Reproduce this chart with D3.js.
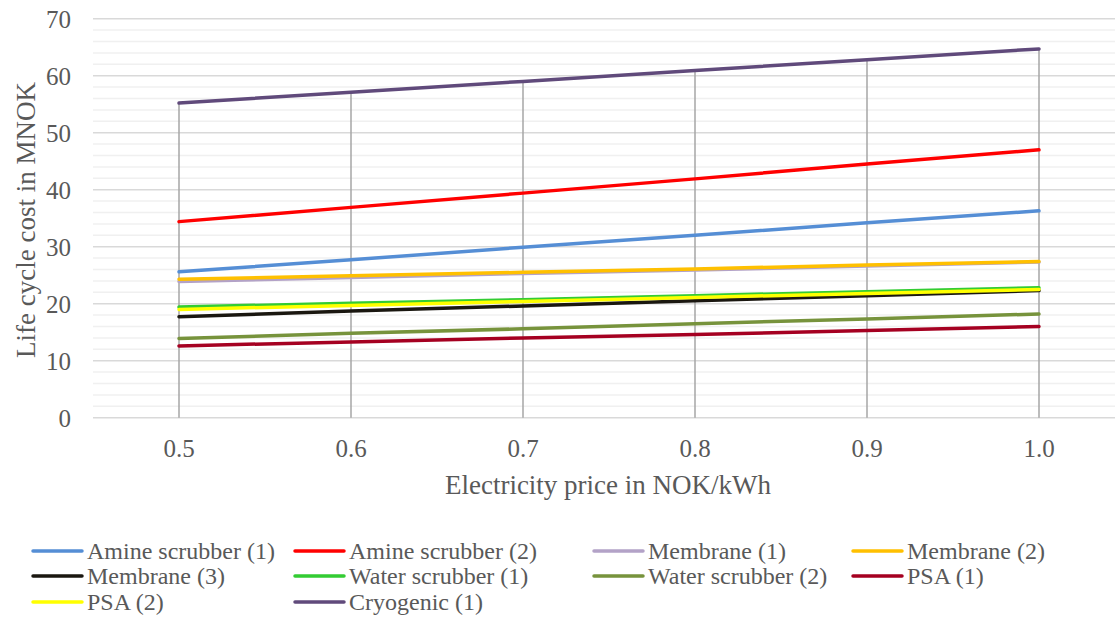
<!DOCTYPE html>
<html>
<head>
<meta charset="utf-8">
<script src="https://cdn.jsdelivr.net/npm/d3@7"></script>
<style>
  html, body { margin: 0; padding: 0; background: #fff; }
  svg { display: block; font-family: "Liberation Serif", "DejaVu Serif", serif; }
</style>
</head>
<body>
<svg id="chart" width="1115" height="619"></svg>
<script>
// Electricity price (NOK/kWh) categories
const prices = ["0.5", "0.6", "0.7", "0.8", "0.9", "1.0"];

// Life cycle cost (MNOK) per upgrading technology
const amineScrubber1 = [25.6, 27.7, 29.9, 32.0, 34.2, 36.3];
const amineScrubber2 = [34.4, 36.9, 39.4, 41.9, 44.5, 47.0];
const membrane1      = [23.9, 24.6, 25.3, 25.9, 26.6, 27.3];
const membrane2      = [24.3, 24.9, 25.5, 26.1, 26.8, 27.4];
const membrane3      = [17.7, 18.7, 19.6, 20.5, 21.4, 22.3];
const waterScrubber1 = [19.4, 20.1, 20.7, 21.4, 22.1, 22.8];
const waterScrubber2 = [13.9, 14.8, 15.6, 16.5, 17.3, 18.2];
const psa1           = [12.6, 13.3, 14.0, 14.6, 15.3, 16.0];
const psa2           = [19.0, 19.7, 20.4, 21.1, 21.8, 22.5];
const cryogenic1     = [55.2, 57.1, 59.0, 60.9, 62.8, 64.7];

const seriesNames = ["Amine scrubber (1)", "Amine scrubber (2)", "Membrane (1)", "Membrane (2)",
  "Membrane (3)", "Water scrubber (1)", "Water scrubber (2)", "PSA (1)", "PSA (2)", "Cryogenic (1)"];
const seriesValues = [amineScrubber1, amineScrubber2, membrane1, membrane2, membrane3,
  waterScrubber1, waterScrubber2, psa1, psa2, cryogenic1];
const seriesColors = ["#558ED5", "#FF0000", "#B3A2C7", "#FFC000", "#1A1710",
  "#33CC33", "#77933C", "#A50021", "#FFFF00", "#604A7B"];

const yTicks = [0, 10, 20, 30, 40, 50, 60, 70];
const yMinorTicks = d3.range(0, 71, 2);

const series = seriesNames.map((name, i) => ({
  name, color: seriesColors[i],
  points: prices.map((p, j) => ({ p, v: seriesValues[i][j] }))
}));

const svg = d3.select("#chart");
const textColor = "#595959";

const x = d3.scaleBand().domain(prices).range([93, 1125]).paddingInner(0).paddingOuter(0);
const y = d3.scaleLinear().domain([0, 70]).range([417.7, 18.7]);
const cx = p => x(p) + x.bandwidth() / 2;

// Minor gridlines
svg.append("g").selectAll("line").data(yMinorTicks.filter(d => d % 10 !== 0)).join("line")
  .attr("x1", 93).attr("x2", 1125)
  .attr("y1", d => y(d)).attr("y2", d => y(d))
  .attr("stroke", "#F0F0F0").attr("stroke-width", 1.5);

// Major gridlines
svg.append("g").selectAll("line").data(yTicks).join("line")
  .attr("x1", 93).attr("x2", 1125)
  .attr("y1", d => y(d)).attr("y2", d => y(d))
  .attr("stroke", "#D9D9D9").attr("stroke-width", 1.5);

// Drop lines from the highest point of each category down to the axis
svg.append("g").selectAll("line").data(prices).join("line")
  .attr("x1", cx).attr("x2", cx)
  .attr("y1", (p, j) => y(d3.max(seriesValues, s => s[j])))
  .attr("y2", y(0))
  .attr("stroke", "#A6A6A6").attr("stroke-width", 1.5);

// Series lines
const line = d3.line().x(d => cx(d.p)).y(d => y(d.v));
svg.append("g").selectAll("path").data(series).join("path")
  .attr("d", d => line(d.points))
  .attr("fill", "none")
  .attr("stroke", d => d.color)
  .attr("stroke-width", 3.5)
  .attr("stroke-linecap", "round")
  .attr("stroke-linejoin", "round");

// Y axis labels
const yAxis = d3.axisLeft(y).tickValues(yTicks).tickSize(0).tickPadding(0);
const gy = svg.append("g").attr("transform", "translate(71,0)").call(yAxis);
gy.select(".domain").remove();
gy.selectAll("text").attr("fill", textColor).style("font-size", "25px")
  .style("font-family", "Liberation Serif").attr("dy", "0.35em");

// X axis labels
const xAxis = d3.axisBottom(x).tickSize(0).tickPadding(0);
const gx = svg.append("g").attr("transform", "translate(0,439)").call(xAxis);
gx.select(".domain").remove();
gx.selectAll("text").attr("fill", textColor).style("font-size", "25px")
  .style("font-family", "Liberation Serif").attr("dy", "0.71em");

// Axis titles
svg.append("text")
  .attr("x", 608).attr("y", 494)
  .attr("text-anchor", "middle")
  .attr("fill", textColor).style("font-size", "27px")
  .text("Electricity price in NOK/kWh");

svg.append("text")
  .attr("transform", "translate(35,220) rotate(-90)")
  .attr("text-anchor", "middle")
  .attr("fill", textColor).style("font-size", "27px")
  .text("Life cycle cost in MNOK");

// Legend: four columns, three rows
const legendCols = [32, 294, 593, 852];
const legendRowY = [551, 576, 602];
const legend = svg.append("g").selectAll("g").data(series).join("g")
  .attr("transform", (d, i) => `translate(${legendCols[i % 4]},${legendRowY[Math.floor(i / 4)]})`);
legend.append("line")
  .attr("x1", 1).attr("x2", 50).attr("y1", 0).attr("y2", 0)
  .attr("stroke", d => d.color).attr("stroke-width", 3.5).attr("stroke-linecap", "round");
legend.append("text")
  .attr("x", 55).attr("y", 0).attr("dy", "0.34em")
  .attr("fill", textColor).style("font-size", "24px")
  .text(d => d.name);
</script>
</body>
</html>
